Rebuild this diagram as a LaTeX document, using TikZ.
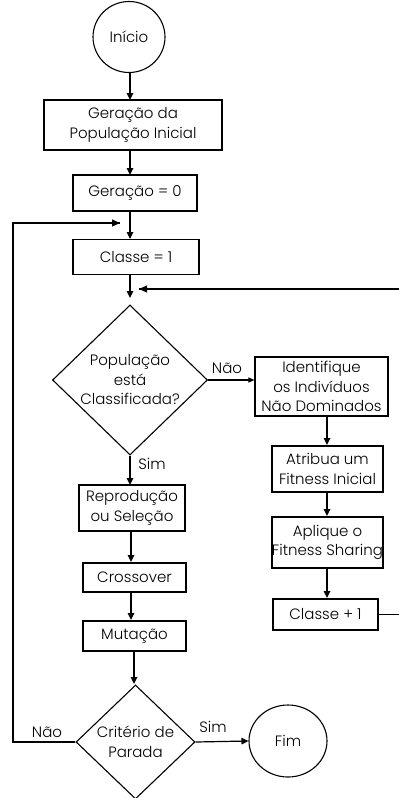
\documentclass[tikz,border=0pt]{standalone}
\usepackage{fontspec}
\setmainfont{Poppins}[UprightFont=* Light]
\usetikzlibrary{shapes.geometric,arrows.meta}
\begin{document}
\begin{tikzpicture}[x=1pt,y=-1pt,
  every node/.style={font=\fontsize{15}{19.5}\selectfont, align=center, inner sep=0pt},
  pbox/.style={draw, line width=1.1pt, rectangle},
  dec/.style={draw, line width=1.1pt, diamond, aspect=1},
  term/.style={draw, line width=1.1pt, ellipse},
  arr/.style={line width=1.6pt, -{Triangle[length=7pt,width=6.5pt]}},
  ln/.style={line width=1.2pt},
  lab/.style={font=\fontsize{15}{19.5}\selectfont}]
\useasboundingbox (0,0) rectangle (399,798);
\node[term, minimum width=72pt, minimum height=71pt] (ini) at (129,37) {Início};
\node[pbox, minimum width=178pt, minimum height=50pt] (gpi) at (133,125) {Geração da\\População Inicial};
\node[pbox, minimum width=124pt, minimum height=36pt] (g0) at (135,193) {Geração = 0};
\node[pbox, minimum width=126pt, minimum height=35pt] (c1) at (136,257) {Classe = 1};
\node[dec, minimum width=155pt, minimum height=150pt] (d1) at (130,380) {População\\está\\Classificada?};
\node[pbox, minimum width=133pt, minimum height=59pt] (idn) at (321.5,386.5) {Identifique\\os Indivíduos\\Não Dominados};
\node[pbox, minimum width=111pt, minimum height=46pt] (atr) at (327.5,469) {Atribua um\\Fitness Inicial};
\node[pbox, minimum width=109pt, minimum height=51pt] (apl) at (327.5,542.5) {Aplique o\\Fitness Sharing};
\node[pbox, minimum width=105pt, minimum height=31pt] (cp1) at (325.5,614.5) {Classe + 1};
\node[pbox, minimum width=106pt, minimum height=46pt] (rep) at (132,508) {Reprodução\\ou Seleção};
\node[pbox, minimum width=103pt, minimum height=29pt] (cro) at (134.5,577.5) {Crossover};
\node[pbox, minimum width=103pt, minimum height=30pt] (mut) at (134.5,636) {Mutação};
\node[dec, minimum width=119pt, minimum height=114pt] (d2) at (135.5,742) {Critério de\\Parada};
\node[term, minimum width=78pt, minimum height=72pt] (fim) at (288,741) {Fim};
\coordinate (ltop) at (13,223);
\coordinate (lbot) at (13,742);
\coordinate (lin) at (120,223);
\coordinate (rtop) at (400.5,289);
\coordinate (rbot) at (400.5,614.5);
\coordinate (rin) at (139,289);
% main chain
\draw[arr] (130,72) -- (130,100);
\draw[arr] (130,150) -- (130,175);
\draw[arr] (130,211) -- (130,239);
\draw[arr] (130,275) -- (130,298);
\draw[arr] (d1.south) -- (130,485);
\draw[arr] (131,531) -- (131,562);
\draw[arr] (131,592) -- (131,620);
\draw[arr] (134,651) -- (134,684);
\draw[arr] (327,416) -- (327,445);
\draw[arr] (327,492) -- (327,516);
\draw[arr] (327,568) -- (327,598);
% Nao branch
\draw[ln, -{Triangle[length=6pt,width=5pt]}] (d1.east) -- (idn.west |- d1.east);
\node[lab] (nao1) at (227,368) {Não};
\node[lab] (sim1) at (152,464) {Sim};
% right loop
\draw[ln] (cp1.east) -- (rbot) -- (rtop) -- (rin);
\draw[line width=1.2pt, -{Triangle[length=8pt,width=7pt]}] (150,289) -- (rin);
% left loop
\draw[ln] (d2.west) -- (lbot) -- (ltop) -- (lin);
\draw[line width=1.2pt, -{Triangle[length=8pt,width=7pt]}] (105,223) -- (lin);
\node[lab] (nao2) at (47,732) {Não};
\node[lab] (sim2) at (213,727) {Sim};
\draw[ln, -{Triangle[length=7pt,width=6.5pt]}] (d2.east) -- (fim.west);
\end{tikzpicture}
\end{document}
